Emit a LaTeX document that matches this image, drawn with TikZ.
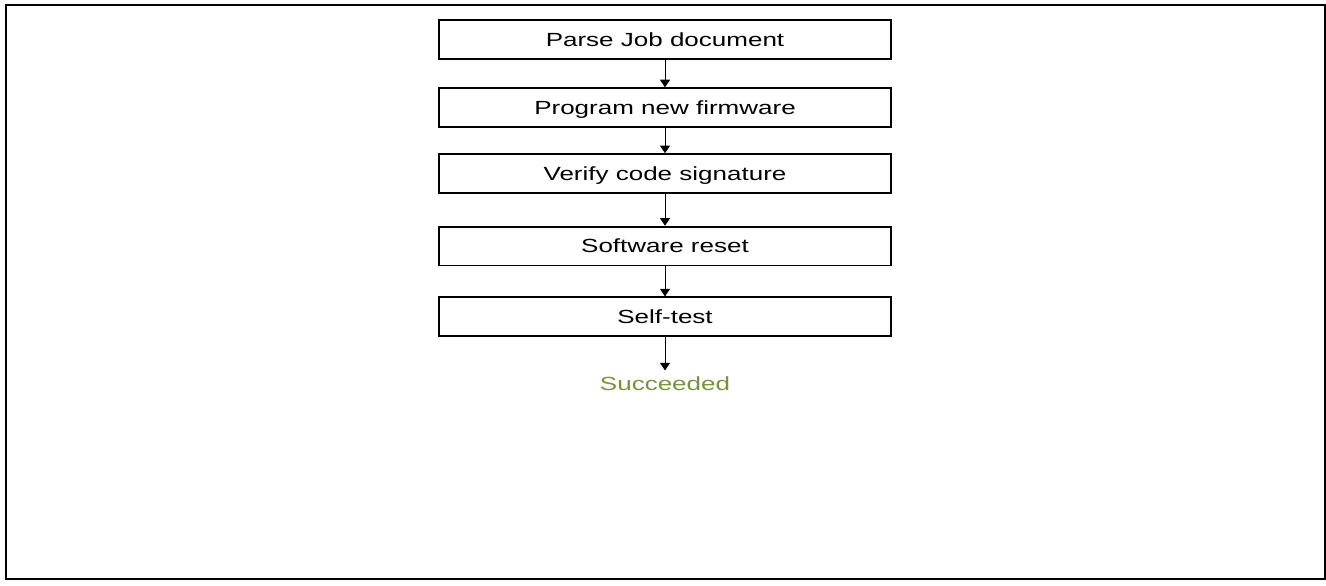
\documentclass[tikz,border=0pt]{standalone}
\usepackage{fontspec}
\usepackage{graphicx}
\setmainfont{Liberation Sans}
\usetikzlibrary{arrows.meta}

\definecolor{okgreen}{RGB}{118,146,60}
% text is set slightly condensed in height to fit the flat boxes
\newcommand\lowtext[1]{\scalebox{1}[0.732]{#1}}

\begin{document}
\begin{tikzpicture}[x=0.5pt,y=-0.5pt,
  stepbox/.style={draw=black, line width=0.9pt, rectangle,
    minimum width=226pt, minimum height=19.4pt, inner sep=0pt,
    text height=6.8pt, text depth=0pt,
    font=\fontsize{13}{15}\selectfont},
  flow/.style={line width=0.5pt, -{Triangle[width=5pt,length=3.8pt]}},
  result/.style={font=\fontsize{13}{15}\selectfont, text=okgreen, anchor=base, inner sep=0pt}
]
\useasboundingbox (0,0) rectangle (1326,585);
\draw[line width=1pt] (6,4.5) rectangle (1324.5,578.5);

\node[stepbox] (parse)  at (665,39.7)  {\lowtext{Parse Job document}};
\node[stepbox] (prog)   at (665,107.6) {\lowtext{Program new firmware}};
\node[stepbox] (verify) at (665,173.5) {\lowtext{Verify code signature}};
\node[stepbox] (reset)  at (665,246)   {\lowtext{Software reset}};
\node[stepbox] (test)   at (665,316.7) {\lowtext{Self-test}};
\coordinate (done) at (665,370.4);
\node[result] (ok) at (665,390) {\lowtext{Succeeded}};

\draw[flow] (parse.south)  -- (prog.north);
\draw[flow] (prog.south)   -- (verify.north);
\draw[flow] (verify.south) -- (reset.north);
\draw[flow] (reset.south)  -- (test.north);
\draw[flow] (test.south)   -- (done);
\end{tikzpicture}
\end{document}
